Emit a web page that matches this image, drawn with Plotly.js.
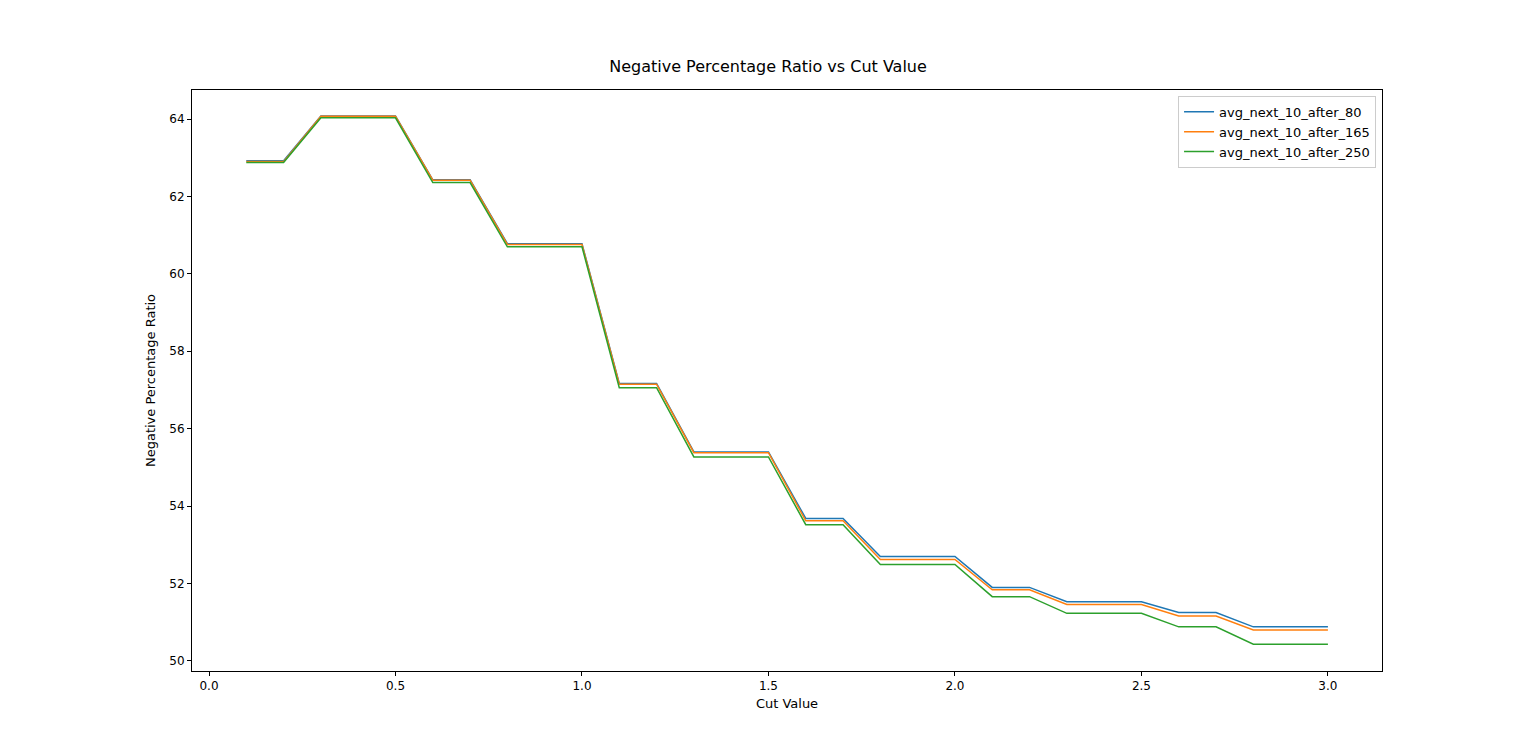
<!DOCTYPE html>
<html>
<head>
<script src="https://cdn.plot.ly/plotly-3.0.1.min.js"></script>
<style>body{margin:0;background:#fff}</style>
</head>
<body>
<div id="chart" style="width:1536px;height:754px"></div>
<script>
// cut values 0.1 .. 3.0
const cutValues = [0.1,0.2,0.3,0.4,0.5,0.6,0.7,0.8,0.9,1.0,1.1,1.2,1.3,1.4,1.5,1.6,1.7,1.8,1.9,2.0,2.1,2.2,2.3,2.4,2.5,2.6,2.7,2.8,2.9,3.0];

const after80 = [62.92,62.92,64.08,64.08,64.08,62.43,62.43,60.78,60.78,60.78,57.17,57.17,55.40,55.40,55.40,53.68,53.68,52.70,52.70,52.70,51.90,51.90,51.53,51.53,51.53,51.25,51.25,50.88,50.88,50.88];
const after165 = [62.90,62.90,64.07,64.07,64.07,62.42,62.42,60.76,60.76,60.76,57.15,57.15,55.38,55.38,55.38,53.62,53.62,52.62,52.62,52.62,51.84,51.84,51.46,51.46,51.46,51.16,51.16,50.80,50.80,50.80];
const after250 = [62.88,62.88,64.03,64.03,64.03,62.36,62.36,60.70,60.70,60.70,57.06,57.06,55.27,55.27,55.27,53.52,53.52,52.49,52.49,52.49,51.66,51.66,51.23,51.23,51.23,50.88,50.88,50.43,50.43,50.43];

const seriesNames = ['avg_next_10_after_80', 'avg_next_10_after_165', 'avg_next_10_after_250'];
const seriesColors = ['#1f77b4', '#ff7f0e', '#2ca02c'];
const seriesValues = [after80, after165, after250];

const traces = seriesValues.map((vals, i) => ({
    type: 'scatter',
    mode: 'lines',
    x: cutValues,
    y: vals,
    name: seriesNames[i],
    line: {color: seriesColors[i], width: 1.5}
}));

const axisStyle = {
    showgrid: false,
    zeroline: false,
    showline: true,
    mirror: true,
    linecolor: '#000',
    linewidth: 1,
    ticks: 'outside',
    ticklen: 4,
    tickcolor: '#000',
    tickfont: {size: 12, color: '#000'}
};

const layout = {
    width: 1536,
    height: 754,
    margin: {l: 192, r: 154, t: 90, b: 83},
    paper_bgcolor: '#fff',
    plot_bgcolor: '#fff',
    font: {family: 'DejaVu Sans', color: '#000'},
    title: {text: 'Negative Percentage Ratio vs Cut Value', font: {size: 16}, x: 0.5, xanchor: 'center', y: 0.905, yanchor: 'bottom'},
    xaxis: Object.assign({}, axisStyle, {
        range: [-0.0456, 3.145],
        tickvals: [0, 0.5, 1, 1.5, 2, 2.5, 3],
        ticktext: ['0.0', '0.5', '1.0', '1.5', '2.0', '2.5', '3.0'],
        title: {text: 'Cut Value', font: {size: 13}, standoff: 6}
    }),
    yaxis: Object.assign({}, axisStyle, {
        range: [49.74, 64.75],
        tickvals: [50, 52, 54, 56, 58, 60, 62, 64],
        title: {text: 'Negative Percentage Ratio', font: {size: 13}, standoff: 10}
    }),
    legend: {
        x: 0.995, y: 0.99, xanchor: 'right', yanchor: 'top',
        bgcolor: 'rgba(255,255,255,0.8)',
        bordercolor: '#ccc', borderwidth: 1,
        font: {size: 13}
    },
    showlegend: true
};

Plotly.newPlot('chart', traces, layout, {displayModeBar: false});
</script>
</body>
</html>
